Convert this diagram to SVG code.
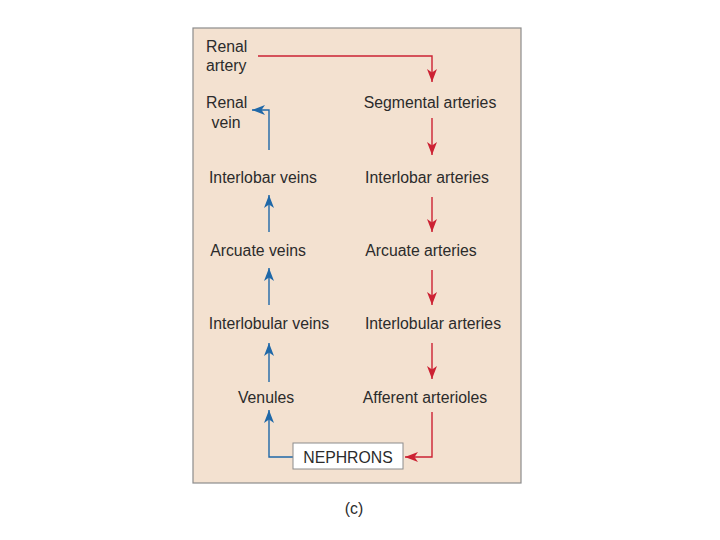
<svg xmlns="http://www.w3.org/2000/svg" width="720" height="540" viewBox="0 0 720 540">
<style>
text{font-family:"Liberation Sans",Arial,sans-serif;font-size:15.8px;fill:#2b2b2b}
.r{stroke:#cc2233;stroke-width:1.4;fill:none}
.b{stroke:#1f68a8;stroke-width:1.4;fill:none}
</style>
<defs>
<marker id="ar" markerUnits="userSpaceOnUse" markerWidth="14" markerHeight="12" refX="13" refY="5" orient="auto"><path d="M0,0 L13,5 L0,10 L3.5,5 z" fill="#cc2233"/></marker>
<marker id="ab" markerUnits="userSpaceOnUse" markerWidth="14" markerHeight="12" refX="13" refY="5" orient="auto"><path d="M0,0 L13,5 L0,10 L3.5,5 z" fill="#1f68a8"/></marker>
</defs>
<rect x="193" y="28" width="328" height="455" fill="#f3e1d0" stroke="#8c8c8c" stroke-width="1.2"/>
<g id="connectors">
<path class="r" d="M258,56 H432 V82" marker-end="url(#ar)"/>
<path class="r" d="M432,118 V155" marker-end="url(#ar)"/>
<path class="r" d="M432,197 V232" marker-end="url(#ar)"/>
<path class="r" d="M432,270 V305" marker-end="url(#ar)"/>
<path class="r" d="M432,343 V379" marker-end="url(#ar)"/>
<path class="r" d="M432,412 V457 H405" marker-end="url(#ar)"/>
<path class="b" d="M293,457 H269 V410" marker-end="url(#ab)"/>
<path class="b" d="M269,382 V343" marker-end="url(#ab)"/>
<path class="b" d="M269,305 V268" marker-end="url(#ab)"/>
<path class="b" d="M269,232 V195" marker-end="url(#ab)"/>
<path class="b" d="M269,150 V110 H252" marker-end="url(#ab)"/>
</g>
<g id="renal-artery"><text x="206" y="52">Renal</text><text x="206" y="71">artery</text></g>
<g id="renal-vein"><text x="206" y="108">Renal</text><text x="226" y="128" text-anchor="middle">vein</text></g>
<g id="segmental-arteries"><text x="430" y="108" text-anchor="middle">Segmental arteries</text></g>
<g id="interlobar-veins"><text x="263" y="183" text-anchor="middle">Interlobar veins</text></g>
<g id="interlobar-arteries"><text x="427" y="183" text-anchor="middle">Interlobar arteries</text></g>
<g id="arcuate-veins"><text x="258" y="256" text-anchor="middle">Arcuate veins</text></g>
<g id="arcuate-arteries"><text x="421" y="256" text-anchor="middle">Arcuate arteries</text></g>
<g id="interlobular-veins"><text x="269" y="329" text-anchor="middle">Interlobular veins</text></g>
<g id="interlobular-arteries"><text x="433" y="329" text-anchor="middle">Interlobular arteries</text></g>
<g id="venules"><text x="266" y="403" text-anchor="middle">Venules</text></g>
<g id="afferent-arterioles"><text x="425" y="403" text-anchor="middle">Afferent arterioles</text></g>
<g id="nephrons"><rect x="293" y="443" width="110" height="26" fill="#ffffff" stroke="#8c8c8c" stroke-width="1"/><text x="348" y="463" text-anchor="middle">NEPHRONS</text></g>
<text x="354" y="514" text-anchor="middle">(c)</text>
</svg>
